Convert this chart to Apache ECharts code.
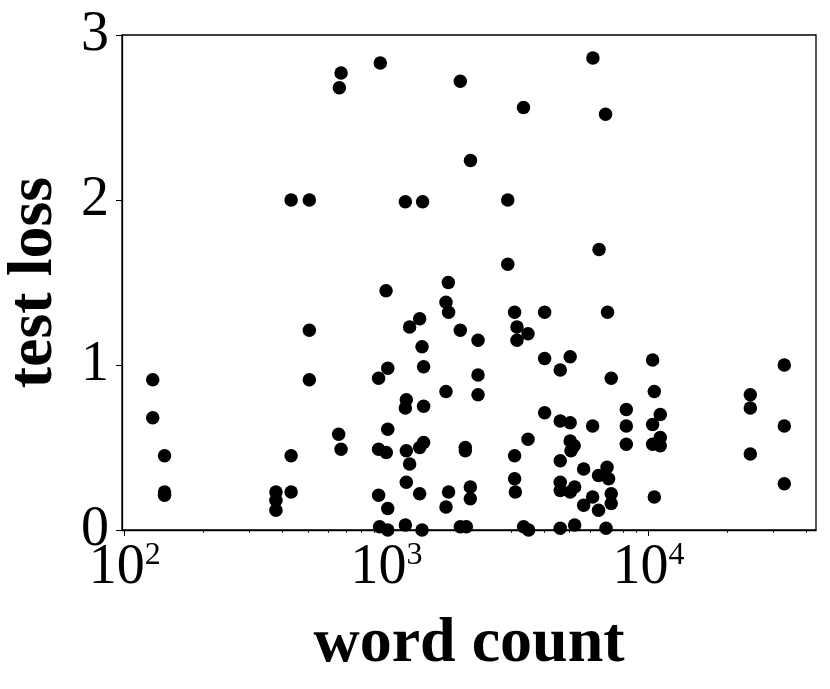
<!DOCTYPE html>
<html lang="en">
<head>
    <meta charset="UTF-8">
    <title>test loss vs word count</title>
    <script src="https://cdn.jsdelivr.net/npm/echarts@6.0.0/dist/echarts.min.js"></script>
    <style>
        html, body {margin: 0; padding: 0; background: #fff;}
    </style>
</head>
<body>
<div class="main" style="width: 830px;height:689px;"></div>
</body>
<script>
    // values
    let wordCount = [670, 660, 946, 432, 507, 1179, 1372, 1911, 6130, 3330, 6850, 2090, 2900, 6470, 2900, 1720,
        995, 507, 128, 507, 932, 1010, 128, 1010, 656, 670, 142, 432, 932, 997, 142, 142,
        378, 378, 378, 432, 932, 1010, 940, 1010, 1685, 1724, 1224, 1337, 1911, 2233, 3080, 3145,
        3465, 3145, 4010, 6970, 1365, 1384, 4010, 4600, 5020, 10360, 7200, 2233, 2233, 1685, 1189, 1179,
        1384, 10515, 8220, 8220, 8220, 4010, 4600, 5020, 6113, 3465, 5020, 5200, 5055, 1997, 1997, 1337,
        1384, 1189, 3080, 4600, 1224, 5650, 6940, 6440, 7035, 3080, 1189, 4600, 4600, 5220, 5020, 7200,
        7200, 6113, 5650, 6440, 1724, 2087, 2087, 1685, 1337, 10515, 3100, 1179, 1365, 1911, 2015, 3333,
        3483, 4600, 5220, 6880, 11080, 10360, 11080, 10360, 11080, 24450, 24450, 24450, 32960, 32960, 32960];
    let testLoss = [2.77, 2.68, 2.83, 2.0, 2.0, 1.99, 1.99, 2.72, 2.86, 2.56, 2.52, 2.24, 2.0, 1.70, 1.61, 1.50,
        1.45, 1.21, 0.91, 0.91, 0.92, 0.98, 0.68, 0.61, 0.58, 0.49, 0.45, 0.45, 0.49, 0.47, 0.23, 0.21,
        0.23, 0.18, 0.12, 0.23, 0.21, 0.13, 0.02, 0.0, 1.38, 1.32, 1.23, 1.28, 1.21, 1.15, 1.32, 1.23,
        1.19, 1.15, 1.32, 1.32, 1.11, 0.99, 1.04, 0.97, 1.05, 1.03, 0.92, 0.94, 0.82, 0.84, 0.79, 0.74,
        0.75, 0.84, 0.73, 0.63, 0.52, 0.71, 0.66, 0.65, 0.63, 0.55, 0.54, 0.51, 0.48, 0.50, 0.48, 0.50,
        0.53, 0.48, 0.45, 0.42, 0.40, 0.37, 0.38, 0.33, 0.31, 0.31, 0.29, 0.29, 0.24, 0.26, 0.23, 0.22,
        0.16, 0.20, 0.15, 0.12, 0.23, 0.26, 0.19, 0.14, 0.22, 0.20, 0.23, 0.03, 0.0, 0.02, 0.02, 0.02,
        0.0, 0.01, 0.03, 0.01, 0.70, 0.64, 0.56, 0.52, 0.51, 0.82, 0.74, 0.46, 1.0, 0.63, 0.28];
    let xMajorTicks = [100, 1000, 10000];
    let xMinorTicks = [200, 300, 400, 500, 600, 700, 800, 900,
        2000, 3000, 4000, 5000, 6000, 7000, 8000, 9000, 20000, 30000, 40000];
    let yTicks = [0, 1, 2, 3];
    let xRange = [97.7, 43550];

    let myChart = echarts.init(document.querySelector('.main'));
    let points = wordCount.map((w, i) => [w, testLoss[i]]);
    let font = 'Liberation Serif';

    let option = {
        backgroundColor: '#fff',
        animation: false,
        grid: {
            left: 122, right: 14, top: 35, bottom: 159,
            containLabel: false, outerBoundsMode: 'none',
            show: true, borderColor: '#000', borderWidth: 1.3, backgroundColor: 'transparent'
        },
        xAxis: [{
            type: 'log',
            logBase: 10,
            position: 'bottom',
            min: xRange[0],
            max: xRange[1],
            name: 'word count',
            nameLocation: 'middle',
            nameGap: 82,
            nameTextStyle: {fontFamily: font, fontWeight: 'bold', fontSize: 64, color: '#000'},
            axisLine: {show: true, lineStyle: {color: '#000', width: 1.3}},
            axisTick: {show: true, length: 6, lineStyle: {color: '#000', width: 1}, customValues: xMajorTicks},
            splitLine: {show: false},
            axisLabel: {
                customValues: xMajorTicks,
                margin: 10,
                color: '#000',
                formatter: function (v) {
                    return '{m|10}{s|' + Math.round(Math.log10(v)) + '}';
                },
                rich: {
                    m: {fontFamily: font, fontSize: 56, color: '#000'},
                    s: {fontFamily: font, fontSize: 32, color: '#000', verticalAlign: 'top'}
                }
            }
        }, {
            type: 'log',
            logBase: 10,
            position: 'bottom',
            min: xRange[0],
            max: xRange[1],
            axisLine: {show: false},
            axisTick: {show: true, length: 3, lineStyle: {color: '#000', width: 0.8}, customValues: xMinorTicks},
            axisLabel: {show: false},
            splitLine: {show: false}
        }],
        yAxis: {
            type: 'value',
            min: 0,
            max: 3,
            interval: 1,
            name: 'test loss',
            nameLocation: 'middle',
            nameRotate: 90,
            nameGap: 56,
            nameTextStyle: {fontFamily: font, fontWeight: 'bold', fontSize: 64, color: '#000'},
            axisLine: {show: true, lineStyle: {color: '#000', width: 1.3}},
            axisTick: {show: true, length: 6, lineStyle: {color: '#000', width: 1}},
            splitLine: {show: false},
            axisLabel: {
                margin: 13,
                fontFamily: font,
                fontSize: 56,
                color: '#000',
                formatter: v => yTicks.includes(v) ? String(v) : ''
            }
        },
        series: [{
            type: 'scatter',
            xAxisIndex: 0,
            data: points,
            symbolSize: 13.5,
            itemStyle: {color: '#000', opacity: 1},
            clip: false
        }]
    };
    myChart.setOption(option);
</script>
</html>
